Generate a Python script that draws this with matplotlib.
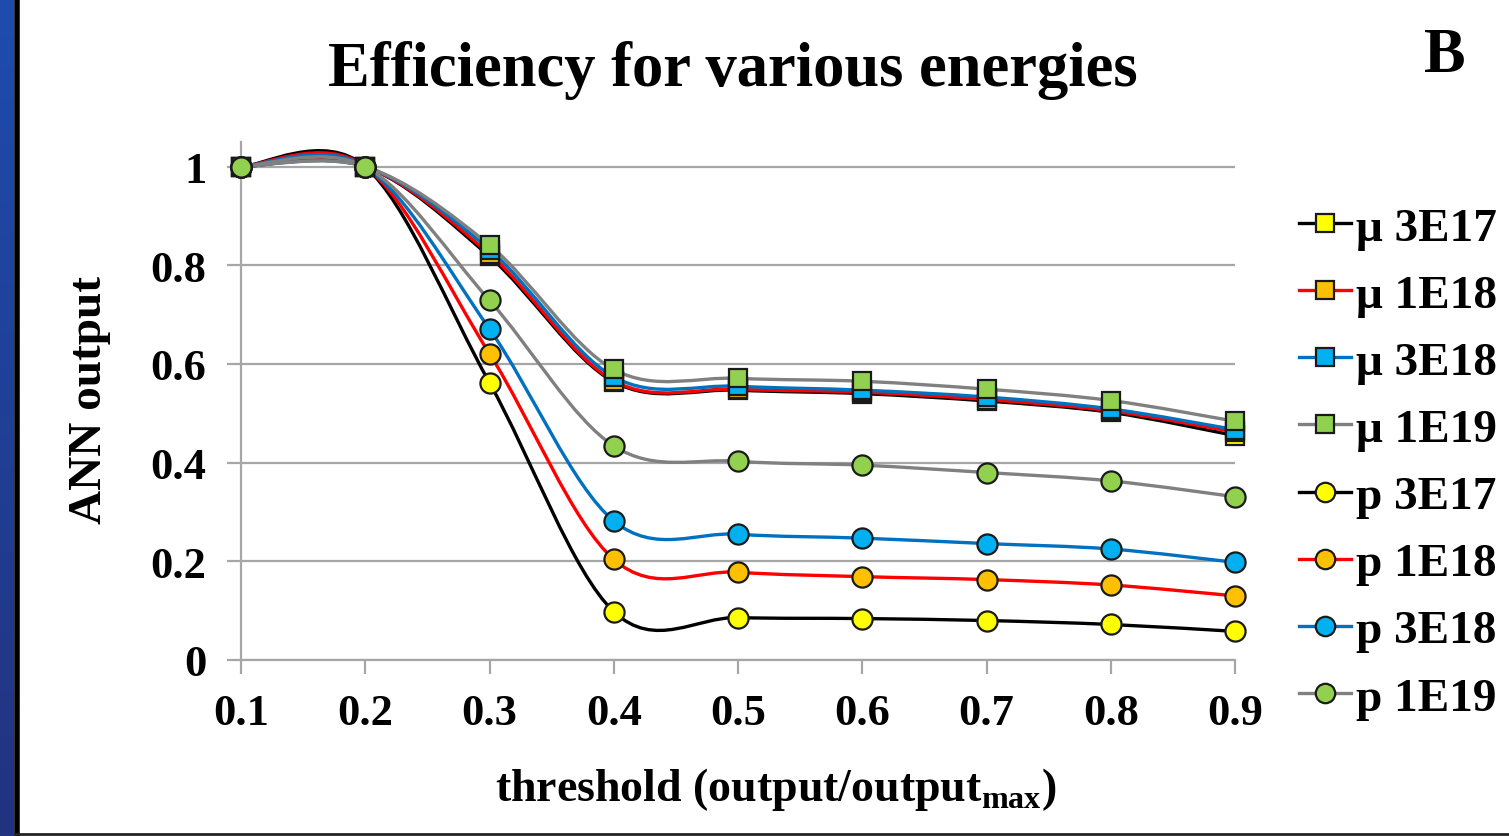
import numpy as np
import matplotlib
matplotlib.use("Agg")
import matplotlib.pyplot as plt
from matplotlib.path import Path
from matplotlib.patches import PathPatch
from matplotlib.lines import Line2D
from matplotlib.colors import LinearSegmentedColormap

# data
thresholds = [0.1, 0.2, 0.3, 0.4, 0.5, 0.6, 0.7, 0.8, 0.9]

mu_3e17 = [1.0, 1.0, 0.818, 0.564, 0.547, 0.540, 0.525, 0.502, 0.455]
mu_1e18 = [1.0, 1.0, 0.823, 0.566, 0.549, 0.543, 0.528, 0.505, 0.462]
mu_3e18 = [1.0, 1.0, 0.832, 0.574, 0.555, 0.547, 0.533, 0.509, 0.467]
mu_1e19 = [1.0, 1.0, 0.841, 0.589, 0.571, 0.565, 0.549, 0.526, 0.484]
p_3e17 = [1.0, 1.0, 0.562, 0.098, 0.086, 0.084, 0.080, 0.072, 0.058]
p_1e18 = [1.0, 1.0, 0.621, 0.204, 0.178, 0.169, 0.163, 0.152, 0.130]
p_3e18 = [1.0, 1.0, 0.671, 0.282, 0.255, 0.247, 0.236, 0.225, 0.198]
p_1e19 = [1.0, 1.0, 0.729, 0.434, 0.403, 0.395, 0.380, 0.363, 0.331]

labels = ['μ 3E17', 'μ 1E18', 'μ 3E18', 'μ 1E19',
          'p 3E17', 'p 1E18', 'p 3E18', 'p 1E19']
series = [mu_3e17, mu_1e18, mu_3e18, mu_1e19, p_3e17, p_1e18, p_3e18, p_1e19]

line_cols = ['#000000', '#ff0000', '#0070c0', '#808080'] * 2
face_cols = ['#ffff00', '#ffc000', '#00b0f0', '#92d050'] * 2
markers = ['s'] * 4 + ['o'] * 4

xtick_labels = ['0.1', '0.2', '0.3', '0.4', '0.5', '0.6', '0.7', '0.8', '0.9']
yticks = [0, 0.2, 0.4, 0.6, 0.8, 1.0]
ytick_labels = ['0', '0.2', '0.4', '0.6', '0.8', '1']


def smooth_path(xs, ys):
    # excel style smoothed line: bezier segments, control points at 1/6
    pts = np.column_stack([xs, ys]).astype(float)
    n = len(pts)
    verts = [pts[0]]
    codes = [Path.MOVETO]
    for i in range(n - 1):
        p0 = pts[max(i - 1, 0)]
        p1 = pts[i]
        p2 = pts[i + 1]
        p3 = pts[min(i + 2, n - 1)]
        verts += [p1 + (p2 - p0) / 6, p2 - (p3 - p1) / 6, p2]
        codes += [Path.CURVE4] * 3
    return Path(verts, codes)


plt.rcParams['font.family'] = 'Liberation Serif'
plt.rcParams['font.weight'] = 'bold'

W, H = 1509, 837
fig = plt.figure(figsize=(W / 100, H / 100), dpi=100)

ax = fig.add_axes([241 / W, 1 - 661 / H, (1235 - 241) / W, (661 - 143) / H])
ax.set_xlim(0.1, 0.9)
ax.set_ylim(0, 1.05)

grid_col = '#a6a6a6'
ax.set_yticks(yticks)
ax.set_yticklabels(ytick_labels)
ax.set_xticks(thresholds)
ax.set_xticklabels(xtick_labels)
ax.yaxis.grid(True, color=grid_col, lw=1.6)
ax.set_axisbelow(True)
for s in ['top', 'right']:
    ax.spines[s].set_visible(False)
for s in ['left', 'bottom']:
    ax.spines[s].set_color(grid_col)
    ax.spines[s].set_linewidth(1.6)
ax.tick_params(axis='both', direction='out', length=10, width=1.6,
               color=grid_col, labelsize=32)
ax.tick_params(axis='y', pad=15)
ax.tick_params(axis='x', pad=14)

# lines first, then markers on top
for ys, lc in zip(series, line_cols):
    ax.add_patch(PathPatch(smooth_path(thresholds, ys), fill=False,
                           edgecolor=lc, lw=2.4, zorder=2, clip_on=False))
for ys, fc, m in zip(series, face_cols, markers):
    ms = 13.5 if m == 's' else 14.5
    ax.plot(thresholds, ys, linestyle='none', marker=m, ms=ms,
            markerfacecolor=fc, markeredgecolor='#1a1a1a', markeredgewidth=1.6,
            zorder=3, clip_on=False)

handles = []
for lc, fc, m in zip(line_cols, face_cols, markers):
    ms = 13 if m == 's' else 14
    handles.append(Line2D([], [], color=lc, lw=2.4, marker=m, ms=ms,
                          markerfacecolor=fc, markeredgecolor='#1a1a1a',
                          markeredgewidth=1.6))
fig.legend(handles, labels, loc='center left',
           bbox_to_anchor=(1299 / W, 1 - 464 / H), bbox_transform=fig.transFigure,
           frameon=False, fontsize=34, handlelength=1.1, handletextpad=0.1,
           labelspacing=0.51, borderpad=0, borderaxespad=0)

fig.text(733 / W, 1 - 70 / H, 'Efficiency for various energies',
         ha='center', va='center', fontsize=45)
fig.text(1445 / W, 1 - 57 / H, 'B', ha='center', va='center', fontsize=45)
fig.text(90 / W, 1 - 400 / H, 'ANN output', rotation=90,
         ha='center', va='center', fontsize=34)
fig.text(776 / W, 1 - 790 / H, r'threshold (output/output$_{\mathregular{max}}$)',
         ha='center', va='center', fontsize=33)

# slide frame: blue strip on the left, dark border lines
strip = fig.add_axes([0, 0, 14 / W, 1])
grad = np.linspace(0, 1, 256).reshape(-1, 1)
strip.imshow(grad, aspect='auto',
             cmap=LinearSegmentedColormap.from_list('slide', ['#1e4cae', '#22337f']))
strip.axis('off')
fig.add_artist(Line2D([17 / W, 17 / W], [0, 1], transform=fig.transFigure,
                      color='black', lw=4))
fig.add_artist(Line2D([15 / W, 1], [2 / H, 2 / H], transform=fig.transFigure,
                      color='#222222', lw=2))

fig.savefig('out.png', dpi=100)
